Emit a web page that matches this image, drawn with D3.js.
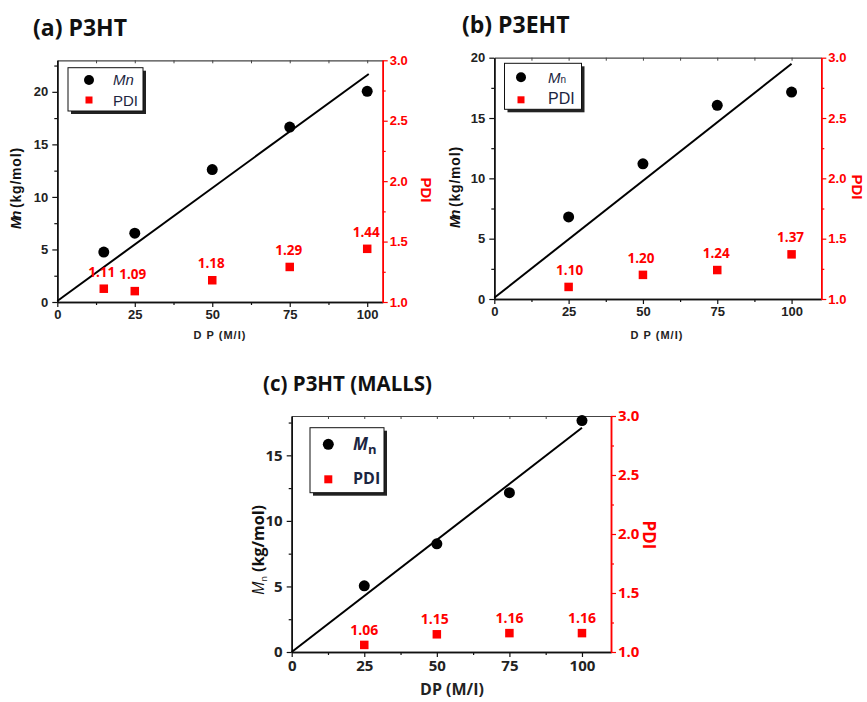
<!DOCTYPE html>
<html>
<head>
<meta charset="utf-8">
<script src="https://cdn.jsdelivr.net/npm/d3@7"></script>
<style>
  body { margin: 0; background: #fff; }
  svg { display: block; }
</style>
</head>
<body>
<div id="wrapper"></div>
<script>
// ---- data ----
// (a) P3HT
const dpA = [15, 25, 50, 75, 100];
const mnA = [4.75, 6.55, 12.6, 16.65, 20.05];
const pdiA = [1.11, 1.09, 1.18, 1.29, 1.44];
const fitXA = [0, 100.5];
const fitYA = [0.1, 21.7];

// (b) P3EHT
const dpB = [25, 50, 75, 100];
const mnB = [6.8, 11.2, 16.05, 17.15];
const pdiB = [1.10, 1.20, 1.24, 1.37];
const fitXB = [0, 100];
const fitYB = [0.1, 19.5];

// (c) P3HT (MALLS)
const dpC = [25, 50, 75, 100];
const mnC = [5.05, 8.25, 12.15, 17.65];
const pdiC = [1.06, 1.15, 1.16, 1.16];
const fitXC = [0, 100];
const fitYC = [0, 17.1];

const xTicks = [0, 25, 50, 75, 100];
const pdiTicks = [1.0, 1.5, 2.0, 2.5, 3.0];

const RED = "#ff0000";
const ARIAL = "'Liberation Sans', Arial, sans-serif";
const CAL = "'Open Sans', sans-serif";

const svg = d3.select("#wrapper").append("svg")
  .attr("width", 867)
  .attr("height", 702);

const panels = [
  {
    title: "(a) P3HT", titleX: 33, titleY: 36, titleSize: 23,
    dp: dpA, mn: mnA, pdi: pdiA, fitX: fitXA, fitY: fitYA,
    left: 57.3, right: 382.7, top: 60.3, bottom: 302,
    xMax: 105, yMax: 23, yMajor: [0, 5, 10, 15, 20],
    font: ARIAL, tickSize: 13, tickColor: "#222",
    xLabel: "D P (M/I)", xLabelX: 220, xLabelY: 339, xLabelSize: 11, xLabelSpacing: 1,
    yLabelX: 16, yLabelY: 188, pdiLabelX: 426, pdiLabelY: 190,
    legend: { x: 68, y: 67.7, w: 75, h: 43.3, style: "a" },
    pdiDx: [-2, -2, -1, -1, -1], pdiSize: 13.5, pdiGap: 12
  },
  {
    title: "(b) P3EHT", titleX: 462, titleY: 33, titleSize: 23,
    dp: dpB, mn: mnB, pdi: pdiB, fitX: fitXB, fitY: fitYB,
    left: 494.3, right: 821.3, top: 57.7, bottom: 299,
    xMax: 110, yMax: 20, yMajor: [0, 5, 10, 15, 20],
    font: ARIAL, tickSize: 13, tickColor: "#222",
    xLabel: "D P (M/I)", xLabelX: 657, xLabelY: 339, xLabelSize: 11, xLabelSpacing: 1,
    yLabelX: 455, yLabelY: 187, pdiLabelX: 857, pdiLabelY: 187,
    legend: { x: 504.5, y: 63.3, w: 77, h: 46, style: "b" },
    pdiDx: [1, -2, -1, -1], pdiSize: 13.5, pdiGap: 12
  },
  {
    title: "(c) P3HT (MALLS)", titleX: 263, titleY: 391, titleSize: 20.5,
    dp: dpC, mn: mnC, pdi: pdiC, fitX: fitXC, fitY: fitYC,
    left: 291.7, right: 611, top: 416, bottom: 652,
    xMax: 110, yMax: 18, yMajor: [0, 5, 10, 15],
    font: CAL, tickSize: 15, tickColor: "#222",
    xLabel: "DP (M/I)", xLabelX: 452, xLabelY: 695, xLabelSize: 16, xLabelSpacing: 0,
    yLabelX: 258, yLabelY: 550, pdiLabelX: 649, pdiLabelY: 535,
    legend: { x: 310, y: 427.7, w: 74, h: 65, style: "c" },
    pdiDx: [0, -2, 0, 0], pdiSize: 14, pdiGap: 10
  }
];

panels.forEach(drawPanel);

function styleTicks(g, color, size, font) {
  g.selectAll("path.domain").attr("stroke", color).attr("stroke-width", 1.5);
  g.selectAll(".tick line").attr("stroke", color).attr("stroke-width", 1.2);
  g.selectAll(".tick text")
    .attr("fill", color === RED ? RED : "#222")
    .attr("font-family", font)
    .attr("font-size", size)
    .attr("font-weight", "bold");
}

function drawPanel(p) {
  const g = svg.append("g");

  const x = d3.scaleLinear().domain([0, p.xMax]).range([p.left, p.right]);
  const y = d3.scaleLinear().domain([0, p.yMax]).range([p.bottom, p.top]);
  const yR = d3.scaleLinear().domain([1, 3]).range([p.bottom, p.top]);

  // title
  g.append("text")
    .attr("x", p.titleX).attr("y", p.titleY)
    .attr("font-family", CAL).attr("font-weight", "bold")
    .attr("font-size", p.titleSize).attr("fill", "#111")
    .text(p.title);

  // top frame with small inward ticks
  const topMinor = d3.range(12.5, p.xMax, 12.5);
  const topAxis = g.append("g")
    .attr("transform", `translate(0,${p.top})`)
    .call(d3.axisTop(x).tickValues(topMinor).tickSize(-3).tickSizeOuter(0).tickFormat(""));
  topAxis.selectAll("path.domain").attr("stroke", "#444").attr("stroke-width", 1.2);
  topAxis.selectAll(".tick line").attr("stroke", "#444");

  // bottom axis
  const bottomMinor = d3.range(12.5, p.xMax, 25);
  const bMin = g.append("g")
    .attr("transform", `translate(0,${p.bottom})`)
    .call(d3.axisBottom(x).tickValues(bottomMinor).tickSize(3).tickSizeOuter(0).tickFormat(""));
  styleTicks(bMin, "#111", p.tickSize, p.font);
  const bAx = g.append("g")
    .attr("transform", `translate(0,${p.bottom})`)
    .call(d3.axisBottom(x).tickValues(xTicks).tickSize(5).tickSizeOuter(0).tickPadding(3));
  styleTicks(bAx, "#111", p.tickSize, p.font);

  // left axis
  const leftMinor = d3.range(2.5, p.yMax, 5);
  const lMin = g.append("g")
    .attr("transform", `translate(${p.left},0)`)
    .call(d3.axisLeft(y).tickValues(leftMinor).tickSize(3).tickSizeOuter(0).tickFormat(""));
  styleTicks(lMin, "#111", p.tickSize, p.font);
  const lAx = g.append("g")
    .attr("transform", `translate(${p.left},0)`)
    .call(d3.axisLeft(y).tickValues(p.yMajor).tickSize(5).tickSizeOuter(0).tickPadding(4));
  styleTicks(lAx, "#111", p.tickSize, p.font);

  // right PDI axis
  const rMin = g.append("g")
    .attr("transform", `translate(${p.right},0)`)
    .call(d3.axisRight(yR).tickValues([1.25, 1.75, 2.25, 2.75]).tickSize(3).tickSizeOuter(0).tickFormat(""));
  styleTicks(rMin, RED, p.tickSize, p.font);
  const rAx = g.append("g")
    .attr("transform", `translate(${p.right},0)`)
    .call(d3.axisRight(yR).tickValues(pdiTicks).tickSize(5).tickSizeOuter(0).tickPadding(2)
      .tickFormat(d3.format(".1f")));
  styleTicks(rAx, RED, p.tickSize, p.font);

  // axis titles
  g.append("text")
    .attr("x", p.xLabelX).attr("y", p.xLabelY)
    .attr("text-anchor", "middle")
    .attr("font-family", p.font).attr("font-weight", "bold")
    .attr("font-size", p.xLabelSize).attr("letter-spacing", p.xLabelSpacing)
    .attr("fill", "#222")
    .text(p.xLabel);

  const yl = g.append("text")
    .attr("transform", `translate(${p.yLabelX},${p.yLabelY}) rotate(-90)`)
    .attr("text-anchor", "middle").attr("dominant-baseline", "central")
    .attr("font-family", p.font).attr("font-weight", "bold").attr("fill", "#111");
  if (p.font === CAL) {
    yl.attr("font-size", 16);
    yl.append("tspan").attr("font-style", "italic").attr("font-weight", "normal").text("M");
    yl.append("tspan").attr("font-size", 9).attr("font-weight", "normal").attr("dy", 5).text("n");
    yl.append("tspan").attr("dy", -5).text(" (kg/mol)");
  } else {
    yl.attr("font-size", 14).attr("letter-spacing", 0.8);
    yl.append("tspan").attr("font-style", "italic").attr("letter-spacing", -2).text("Mn");
    yl.append("tspan").text(" (kg/mol)");
  }

  g.append("text")
    .attr("transform", `translate(${p.pdiLabelX},${p.pdiLabelY}) rotate(90)`)
    .attr("text-anchor", "middle").attr("dominant-baseline", "central")
    .attr("font-family", p.font).attr("font-weight", "bold")
    .attr("font-size", p.font === CAL ? 17 : 15).attr("fill", RED)
    .text("PDI");

  // linear fit
  const line = d3.line().x(d => x(d[0])).y(d => y(d[1]));
  g.append("path")
    .datum(d3.zip(p.fitX, p.fitY))
    .attr("d", line)
    .attr("fill", "none").attr("stroke", "#000").attr("stroke-width", 2);

  // Mn points
  g.selectAll("circle.mn")
    .data(d3.zip(p.dp, p.mn))
    .join("circle")
    .attr("class", "mn")
    .attr("cx", d => x(d[0])).attr("cy", d => y(d[1]))
    .attr("r", 5.5).attr("fill", "#000");

  // PDI squares + labels
  const sq = 8.5;
  g.selectAll("rect.pdi")
    .data(d3.zip(p.dp, p.pdi))
    .join("rect")
    .attr("class", "pdi")
    .attr("x", d => x(d[0]) - sq / 2).attr("y", d => yR(d[1]) - sq / 2)
    .attr("width", sq).attr("height", sq).attr("fill", RED);

  g.selectAll("text.pdiLab")
    .data(d3.zip(p.dp, p.pdi, p.pdiDx))
    .join("text")
    .attr("class", "pdiLab")
    .attr("x", d => x(d[0]) + d[2]).attr("y", d => yR(d[1]) - p.pdiGap)
    .attr("text-anchor", "middle")
    .attr("font-family", CAL).attr("font-weight", "bold")
    .attr("font-size", p.pdiSize).attr("fill", RED)
    .text(d => d3.format(".2f")(d[1]));

  drawLegend(g, p.legend);
}

function drawLegend(g, L) {
  const lg = g.append("g").attr("transform", `translate(${L.x},${L.y})`);
  lg.append("rect").attr("x", 3).attr("y", 3).attr("width", L.w).attr("height", L.h).attr("fill", "#222");
  lg.append("rect").attr("width", L.w).attr("height", L.h)
    .attr("fill", "#fff").attr("stroke", "#111").attr("stroke-width", 1);

  const navy = "#1c2541";
  if (L.style === "a") {
    lg.append("circle").attr("cx", 21).attr("cy", 12.3).attr("r", 5).attr("fill", "#000");
    lg.append("rect").attr("x", 17.5).attr("y", 28.8).attr("width", 7).attr("height", 7).attr("fill", RED);
    lg.append("text").attr("x", 45).attr("y", 17.5)
      .attr("font-family", ARIAL).attr("font-size", 15).attr("font-style", "italic")
      .attr("fill", navy).text("Mn");
    lg.append("text").attr("x", 45).attr("y", 38)
      .attr("font-family", ARIAL).attr("font-size", 15).attr("fill", navy).text("PDI");
  } else if (L.style === "b") {
    lg.append("circle").attr("cx", 16.5).attr("cy", 14).attr("r", 5).attr("fill", "#000");
    lg.append("rect").attr("x", 13).attr("y", 33).attr("width", 7).attr("height", 7).attr("fill", RED);
    const t = lg.append("text").attr("x", 43.5).attr("y", 20)
      .attr("font-family", ARIAL).attr("font-size", 15).attr("fill", navy);
    t.append("tspan").attr("font-style", "italic").text("M");
    t.append("tspan").attr("font-size", 10).text("n");
    lg.append("text").attr("x", 43.5).attr("y", 41)
      .attr("font-family", ARIAL).attr("font-size", 16).attr("fill", navy).text("PDI");
  } else {
    lg.append("circle").attr("cx", 18.3).attr("cy", 16.6).attr("r", 5.5).attr("fill", "#000");
    lg.append("rect").attr("x", 14.3).attr("y", 47.6).attr("width", 8).attr("height", 8).attr("fill", RED);
    const t = lg.append("text").attr("x", 43).attr("y", 22)
      .attr("font-family", CAL).attr("font-size", 17).attr("font-weight", "bold").attr("fill", navy);
    t.append("tspan").attr("font-style", "italic").text("M");
    t.append("tspan").attr("font-size", 13).attr("dy", 4).text("n");
    lg.append("text").attr("x", 43).attr("y", 56)
      .attr("font-family", CAL).attr("font-size", 16).attr("font-weight", "bold").attr("fill", navy).text("PDI");
  }
}
</script>
</body>
</html>
